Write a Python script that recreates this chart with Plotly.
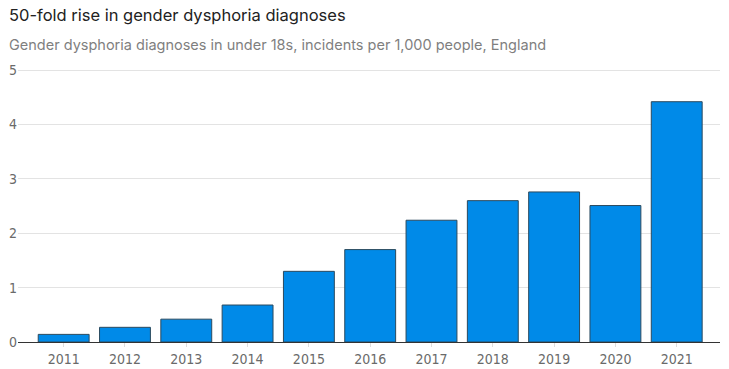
import plotly.graph_objects as go

years = ["2011", "2012", "2013", "2014", "2015", "2016", "2017", "2018", "2019", "2020", "2021"]
rates = [0.14, 0.27, 0.42, 0.68, 1.30, 1.70, 2.24, 2.60, 2.76, 2.51, 4.42]
y_ticks = [0, 1, 2, 3, 4, 5]

title = "50-fold rise in gender dysphoria diagnoses"
subtitle = "Gender dysphoria diagnoses in under 18s, incidents per 1,000 people, England"

fig = go.Figure(go.Bar(
    x=years, y=rates,
    marker=dict(color="#008ae8", line=dict(color="#2b4a5e", width=1)),
    hoverinfo="x+y",
))

tick_font = dict(family="Liberation Sans Narrow, DejaVu Sans Condensed, Roboto, Arial", size=14, color="#6a6a6a")

top = 68
bottom = 27
plot_h = 369 - top - bottom

fig.update_layout(
    width=729, height=369,
    margin=dict(l=18, r=9, t=top, b=bottom, autoexpand=False),
    paper_bgcolor="white", plot_bgcolor="white",
    bargap=0.17,
    showlegend=False,
    annotations=[
        dict(text=title, x=0, xref="paper", xanchor="left", xshift=-11,
             y=1 + (top - 15) / plot_h, yref="paper", yanchor="middle", showarrow=False,
             font=dict(family="Inter, Noto Sans, Arial", size=16.5, color="#222222")),
        dict(text=subtitle, x=0, xref="paper", xanchor="left", xshift=-11,
             y=1 + (top - 45) / plot_h, yref="paper", yanchor="middle", showarrow=False,
             font=dict(family="Inter, Noto Sans, Arial", size=14.5, color="#7f7f7f")),
    ],
    xaxis=dict(
        type="category", range=[-0.745, 10.706], automargin=False,
        showgrid=False, showline=True, linecolor="#333333", linewidth=1,
        ticks="outside", ticklen=4, tickcolor="#dddddd",
        tickfont=tick_font, fixedrange=True,
    ),
    yaxis=dict(
        range=[0, 5.04], tickvals=y_ticks, automargin=False,
        showgrid=True, gridcolor="#e3e3e3", gridwidth=1,
        zeroline=False, showline=False,
        tickfont=tick_font, ticks="", fixedrange=True,
    ),
)

fig.write_html(
    "out.html",
    config={"displayModeBar": False},
    post_script="document.body.style.margin='0';document.body.style.overflow='hidden';",
)
